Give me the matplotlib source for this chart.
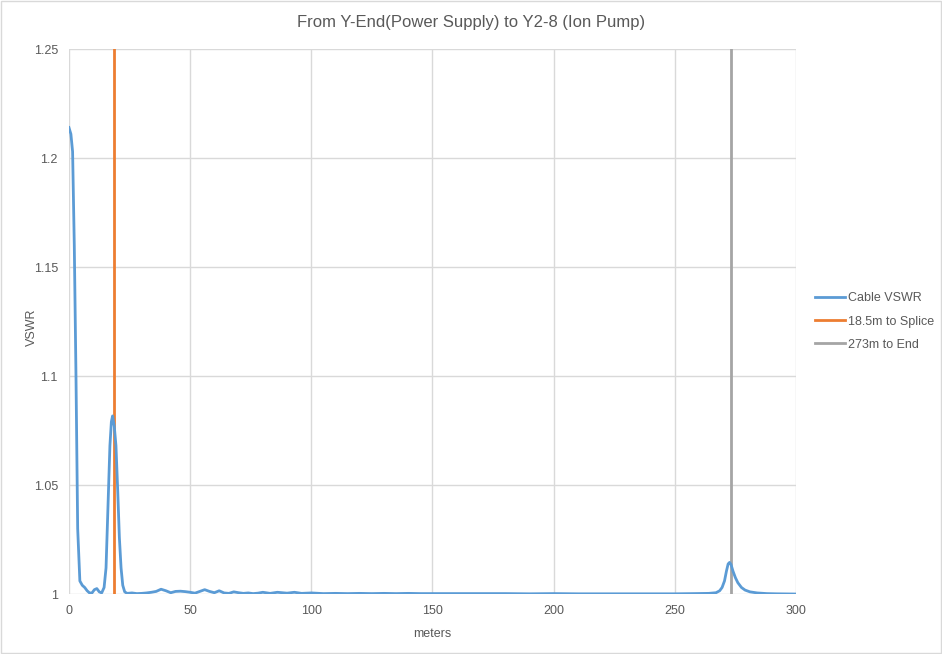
import matplotlib.pyplot as plt
from matplotlib.patches import Rectangle

# Cable VSWR trace (distance in m, VSWR)
meters = [0, 0.8, 1.5, 2.2, 2.9, 3.6, 4.5, 5.5, 6.5, 7.5, 8.5, 9.5, 10.5, 11.5,
          12.5, 13.5, 14.5, 15.3, 16.1, 16.9, 17.5, 18.0, 18.7, 19.4, 20.1, 20.8,
          21.5, 22.2, 23.0, 24.0, 26, 28, 30, 32, 34, 36, 38, 40, 42, 44, 46, 48,
          50, 52, 54, 56, 58, 60, 62, 64, 66, 68, 70, 72, 74, 76, 78, 80, 83, 86,
          90, 93, 96, 100, 105, 110, 115, 120, 125, 130, 135, 140, 145, 150, 160,
          170, 180, 190, 200, 210, 220, 230, 240, 250, 258, 264, 267, 268.5, 269.5,
          270.5, 271.3, 272.0, 272.6, 273.2, 274.0, 275.0, 276.0, 277.5, 279, 281,
          284, 288, 292, 300]
vswr = [1.214, 1.211, 1.203, 1.16, 1.10, 1.03, 1.006, 1.004, 1.003, 1.0015,
        1.0005, 1.0005, 1.002, 1.0025, 1.001, 1.0005, 1.003, 1.012, 1.040,
        1.068, 1.079, 1.0817, 1.077, 1.068, 1.048, 1.026, 1.012, 1.004, 1.001,
        1.0003, 1.0005, 1.0002, 1.0003, 1.0005, 1.0008, 1.0012, 1.0022, 1.0015,
        1.0006, 1.0012, 1.0013, 1.0011, 1.0008, 1.0004, 1.0012, 1.0020, 1.0012,
        1.0006, 1.0015, 1.0005, 1.0003, 1.0010, 1.0006, 1.0003, 1.0005, 1.0002,
        1.0004, 1.0008, 1.0003, 1.0008, 1.0004, 1.0008, 1.0003, 1.0005, 1.0002,
        1.0003, 1.0002, 1.0003, 1.0002, 1.0003, 1.0002, 1.0003, 1.0002, 1.0002,
        1.0002, 1.0002, 1.0002, 1.0001, 1.0002, 1.0001, 1.0001, 1.0001, 1.0001,
        1.0001, 1.0002, 1.0003, 1.0006, 1.0015, 1.003, 1.006, 1.0105, 1.0138,
        1.0145, 1.0135, 1.0105, 1.0075, 1.0052, 1.003, 1.0018, 1.001, 1.0005,
        1.0002, 1.0001, 1.0]

splice_m = 18.5
end_m = 273
y_ticks = [1, 1.05, 1.1, 1.15, 1.2, 1.25]
y_tick_labels = ['1', '1.05', '1.1', '1.15', '1.2', '1.25']
x_ticks = [0, 50, 100, 150, 200, 250, 300]

plt.rcParams['font.family'] = ['Liberation Sans', 'DejaVu Sans']
txt = '#595959'

fig = plt.figure(figsize=(9.42, 6.54), dpi=100)
ax = fig.add_axes([0.0732, 0.0917, 0.7718, 0.8333])

ax.plot(meters, vswr, color='#5B9BD5', linewidth=2, label='Cable VSWR', zorder=3)
ax.axvline(splice_m, color='#ED7D31', linewidth=2, label='18.5m to Splice', zorder=2)
ax.axvline(end_m, color='#A5A5A5', linewidth=2, label='273m to End', zorder=2)

ax.set_xlim(0, 300)
ax.set_ylim(1, 1.25)
ax.set_xticks(x_ticks)
ax.set_yticks(y_ticks)
ax.set_yticklabels(y_tick_labels)
ax.grid(True, color='#D9D9D9', linewidth=1)
ax.set_axisbelow(True)
for s in ax.spines.values():
    s.set_visible(False)
ax.tick_params(length=0, colors=txt, labelsize=9, pad=8)

ax.set_xlabel('meters', color=txt, fontsize=9)
ax.xaxis.set_label_coords(0.5, -0.062)
ax.set_ylabel('VSWR', color=txt, fontsize=9)
ax.yaxis.set_label_coords(-0.042, 0.49)
fig.text(0.5, 0.966, 'From Y-End(Power Supply) to Y2-8 (Ion Pump)',
         ha='center', va='center', color=txt, fontsize=12)

ax.legend(loc='center left', bbox_to_anchor=(1.01, 0.5), frameon=False,
          fontsize=9, labelcolor=txt, handlelength=2.4, handletextpad=0.3,
          labelspacing=0.9)

fig.add_artist(Rectangle((0.001, 0.001), 0.998, 0.998, transform=fig.transFigure,
                         fill=False, edgecolor='#D9D9D9', linewidth=1))

fig.savefig('out.png', dpi=100)
